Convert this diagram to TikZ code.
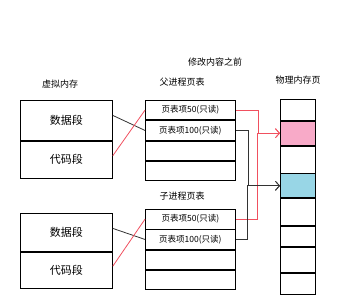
\documentclass[tikz,border=0pt]{standalone}
\usepackage{fontspec}
\newfontfamily\cjk{Noto Sans CJK SC}
\usetikzlibrary{arrows.meta}
\definecolor{pagepink}{RGB}{248,170,200}
\definecolor{pageblue}{RGB}{152,214,230}
\definecolor{linkred}{RGB}{240,80,95}
\tikzset{
  seg/.style={draw,thick,anchor=north west,minimum width=92pt,inner sep=0pt,font=\cjk\fontsize{11}{13}\selectfont},
  entry/.style={draw,thick,anchor=north west,minimum width=90pt,minimum height=19.5pt,inner sep=0pt,font=\cjk\fontsize{8.5}{10}\selectfont},
  page/.style={draw,thick,anchor=north west,minimum width=35pt,inner sep=0pt},
  title/.style={font=\cjk\fontsize{9}{11}\selectfont},
  blackline/.style={thick,black!80},
  redline/.style={thick,linkred},
  tip/.style={-{Straight Barb[length=4pt,width=9pt]}}
}
\begin{document}
\begin{tikzpicture}[x=1pt,y=-1pt]
\useasboundingbox (0,0) rectangle (352,304);

% titles
\node[title] (before) at (215,62) {修改内容之前};
\node[title] (vmtitle) at (60,84) {虚拟内存};
\node[title] (pttitle) at (182,82) {父进程页表};
\node[title] (cttitle) at (182,196) {子进程页表};
\node[title] (pmtitle) at (298,80) {物理内存页};

% parent virtual memory
\node[seg,minimum height=40pt] (vd1) at (20,100) {数据段};
\node[seg,minimum height=37pt] (vc1) at (vd1.south west) {代码段};

% child virtual memory
\node[seg,minimum height=38pt] (vd2) at (20,213) {数据段};
\node[seg,minimum height=36pt] (vc2) at (vd2.south west) {代码段};

% parent page table
\node[entry] (pt1) at (145,100) {页表项50(只读)};
\node[entry] (pt2) at (pt1.south west) {页表项100(只读)};
\node[entry] (pt3) at (pt2.south west) {};
\node[entry] (pt4) at (pt3.south west) {};

% child page table
\node[entry] (ct1) at (145,209) {页表项50(只读)};
\node[entry] (ct2) at (ct1.south west) {页表项100(只读)};
\node[entry] (ct3) at (ct2.south west) {};
\node[entry] (ct4) at (ct3.south west) {};

% physical pages
\node[page,minimum height=21pt] (p1) at (280,99) {};
\node[page,minimum height=24pt,fill=pagepink] (p2) at (p1.south west) {};
\node[page,minimum height=27pt] (p3) at (p2.south west) {};
\node[page,minimum height=24pt,fill=pageblue] (p4) at (p3.south west) {};
\node[page,minimum height=27pt] (p5) at (p4.south west) {};
\node[page,minimum height=20pt] (p6) at (p5.south west) {};
\node[page,minimum height=25pt] (p7) at (p6.south west) {};
\node[page,minimum height=21pt] (p8) at (p7.south west) {};

% virtual memory -> page table
\draw[blackline] ([yshift=5pt]vd1.east) -- (pt2.west);
\draw[redline] ([yshift=4pt]vc1.east) -- (pt1.west);
\draw[blackline] ([yshift=4pt]vd2.east) -- (ct2.west);
\draw[redline] ([yshift=4pt]vc2.east) -- (ct1.west);

% page table -> physical pages
\draw[redline,tip] (pt1.east) -- ++(23,0) |- (p2.west);
\draw[redline,tip] (ct1.east) -- ++(22,0) |- (p2.west);
\draw[blackline,tip] (pt2.east) -- ++(13,0) |- (p4.west);
\draw[blackline,tip] (ct2.east) -- ++(12,0) |- (p4.west);
\end{tikzpicture}
\end{document}
